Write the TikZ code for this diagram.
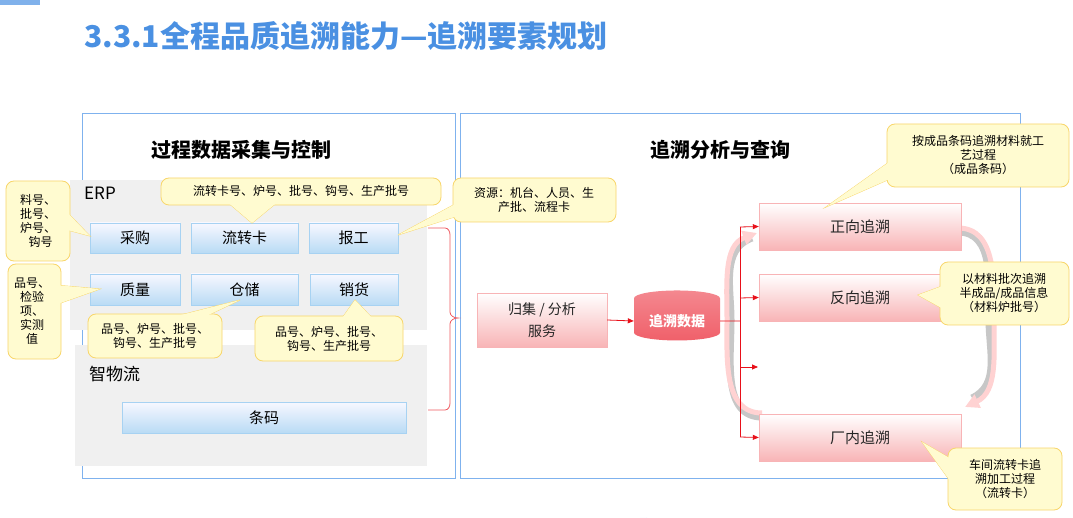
\documentclass[tikz,border=0pt]{standalone}
\usepackage{fontspec}
\setmainfont{Noto Sans CJK SC}
\usetikzlibrary{arrows.meta,shapes.geometric}
\definecolor{ttl}{HTML}{4A90E2}
\definecolor{pan}{HTML}{7FB2EE}
\definecolor{cy}{HTML}{FFFBD0}
\definecolor{cyb}{HTML}{F8D66A}
\definecolor{bb}{HTML}{A7D2F2}
\definecolor{pb}{HTML}{F8B4B6}
\definecolor{rd}{HTML}{E8101A}
\definecolor{cyl}{HTML}{F0606A}
\begin{document}
\begin{tikzpicture}[x=1pt,y=-1pt,
 panel/.style={draw=pan,line width=0.8pt},
 gray/.style={fill=black!6,draw=none},
 bbox/.style={draw=bb,top color=blue!3,bottom color=bb!80,inner sep=0pt,font=\fontsize{15}{17}\selectfont},
 pbox/.style={draw=pb,top color=white,bottom color=pb,inner sep=0pt,font=\fontsize{15}{17}\selectfont,text=black!85},
 ctext/.style={font=\fontsize{12}{14}\selectfont,align=center,inner sep=0pt},
 cfill/.style={fill=cy,draw=cyb,line width=0.8pt},
 arr/.style={rd,line width=0.8pt,-{Triangle[length=6pt,width=5pt]}}]
\useasboundingbox (0,0) rectangle (1073,518);
\fill[white] (0,0) rectangle (1073,518);
\draw[blue!6,line width=14pt] (640,518) arc[start angle=180,end angle=110,radius=60];
\fill[ttl!70] (0,0) rectangle (40,5);
\node[anchor=west,text=ttl,font=\fontsize{30}{34}\selectfont\bfseries,inner sep=0pt] (title) at (84,36) {3.3.1全程品质追溯能力—追溯要素规划};
\draw[panel] (82,113) rectangle (455,478);
\draw[panel] (460,113) rectangle (1020,478);
\node[font=\fontsize{20}{22}\selectfont\bfseries] (h1) at (241,150) {过程数据采集与控制};
\node[font=\fontsize{20}{22}\selectfont\bfseries] (h2) at (720,150) {追溯分析与查询};
\fill[gray] (70,180) rectangle (427,330);
\fill[gray] (75,345) rectangle (427,466);
\node[anchor=west,font=\fontsize{17}{19}\selectfont,inner sep=0pt] (erp) at (84,193) {ERP};
\node[anchor=west,font=\fontsize{17}{19}\selectfont,inner sep=0pt] (zwl) at (89,374) {智物流};
\node[bbox,minimum width=90pt,minimum height=30pt] (cg) at (135,238) {采购};
\node[bbox,minimum width=107pt,minimum height=30pt] (lzk) at (244.5,238) {流转卡};
\node[bbox,minimum width=89pt,minimum height=30pt] (bg) at (353.5,238) {报工};
\node[bbox,minimum width=90pt,minimum height=31pt] (zl) at (135,289.5) {质量};
\node[bbox,minimum width=107pt,minimum height=31pt] (cc) at (244.5,289.5) {仓储};
\node[bbox,minimum width=88pt,minimum height=31pt] (xh) at (354,289.5) {销货};
\node[bbox,minimum width=284pt,minimum height=31pt] (tm) at (264,417.5) {条码};
% brace
\coordinate (b1) at (428,228);
\coordinate (b2) at (428,410);
\draw[rd!70,line width=0.8pt] (b1) -- (445,228) to[out=0,in=90] (450,235) -- (450,312) to[out=-90,in=180] (458,318) to[out=180,in=90] (450,324) -- (450,403) to[out=-90,in=0] (445,410) -- (b2);
\node[pbox,minimum width=130pt,minimum height=54pt,align=center,font=\fontsize{14}{22}\selectfont] (gj) at (542,320) {归集 / 分析\\服务};
\node[cylinder,shape border rotate=90,aspect=0.25,draw=none,minimum width=86pt,minimum height=50pt,text=white,font=\fontsize{14}{16}\selectfont\bfseries,top color=cyl!75,bottom color=cyl] (db) at (677,321) {追溯数据};
\draw[arr] (gj.east) -- (db.west);
% big curved arrows (behind boxes)
\draw[black!22,line width=7pt] (762,417) to[out=180,in=270] (731,320) to[out=90,in=200] (752,238);
\draw[pink!70,line width=5pt,-{Triangle[length=14pt,width=14pt]}] (762,413) to[out=180,in=270] (727,320) to[out=90,in=200] (757,233);
\draw[black!22,line width=7pt] (958,232) to[out=0,in=90] (989,320) to[out=270,in=25] (972,398);
\draw[pink!70,line width=5pt,-{Triangle[length=14pt,width=14pt]}] (958,228) to[out=0,in=90] (994,320) to[out=270,in=25] (965,407);
\node[pbox,minimum width=202pt,minimum height=47pt] (zx) at (860,226.5) {正向追溯};
\node[pbox,minimum width=202pt,minimum height=47pt] (fx) at (860,297.5) {反向追溯};
\node[pbox,minimum width=202pt,minimum height=47pt] (cn) at (860,437.5) {厂内追溯};
\coordinate (e3) at (758,367);
\draw[rd,line width=0.8pt] (db.east) -- (740,321);
\draw[rd,line width=0.8pt] (740,227) -- (740,437);
\draw[arr] (740,227) -- (zx.west);
\draw[arr] (740,298) -- (fx.west);
\draw[arr] (740,367) -- (e3);
\draw[arr] (740,437) -- (cn.west);
% callouts
\newcommand{\mycallout}[8]{%
 \draw[cfill] #5 -- #6 -- #7 -- cycle;
 \draw[cfill,rounded corners=8pt] #1 rectangle #2;
 \fill[cy] #5 -- #6 -- #7 -- cycle;
 \node[ctext] (#3) at #4 {#8};}
\mycallout{(6,181)}{(70,261)}{c1}{(38,221)}{(60,205)}{(90,236)}{(60,228)}{料号、\\批号、\\炉号、\\\ \ 钩号}
\mycallout{(8,264)}{(61,359)}{c2}{(32,311)}{(55,285)}{(100,289)}{(55,305)}{品号、\\检验\\项、\\实测\\值}
\mycallout{(161,178)}{(441,205)}{c3}{(301,191)}{(225,200)}{(252,223)}{(280,200)}{流转卡号、炉号、批号、钩号、生产批号}
\mycallout{(453,178)}{(616,222)}{c4}{(534,200)}{(470,196)}{(398,235)}{(470,212)}{资源：机台、人员、生\\产批、流程卡}
\mycallout{(88,314)}{(222,358)}{c5}{(155,336)}{(165,319)}{(240,300)}{(200,319)}{品号、炉号、批号、\\钩号、生产批号}
\mycallout{(255,316)}{(403,361)}{c6}{(329,339)}{(340,321)}{(355,300)}{(375,321)}{品号、炉号、批号、\\钩号、生产批号}
\mycallout{(887,124)}{(1069,187)}{c7}{(978,155)}{(892,160)}{(826,207)}{(892,178)}{按成品条码追溯材料就工\\艺过程\\（成品条码）}
\mycallout{(940,262)}{(1069,325)}{c8}{(1004,293)}{(945,285)}{(918,295)}{(945,310)}{以材料批次追溯\\半成品/成品信息\\（材料炉批号）}
\mycallout{(948,448)}{(1062,510)}{c9}{(1005,479)}{(953,460)}{(922,442)}{(953,485)}{车间流转卡追\\溯加工过程\\（流转卡）}
\end{tikzpicture}
\end{document}
